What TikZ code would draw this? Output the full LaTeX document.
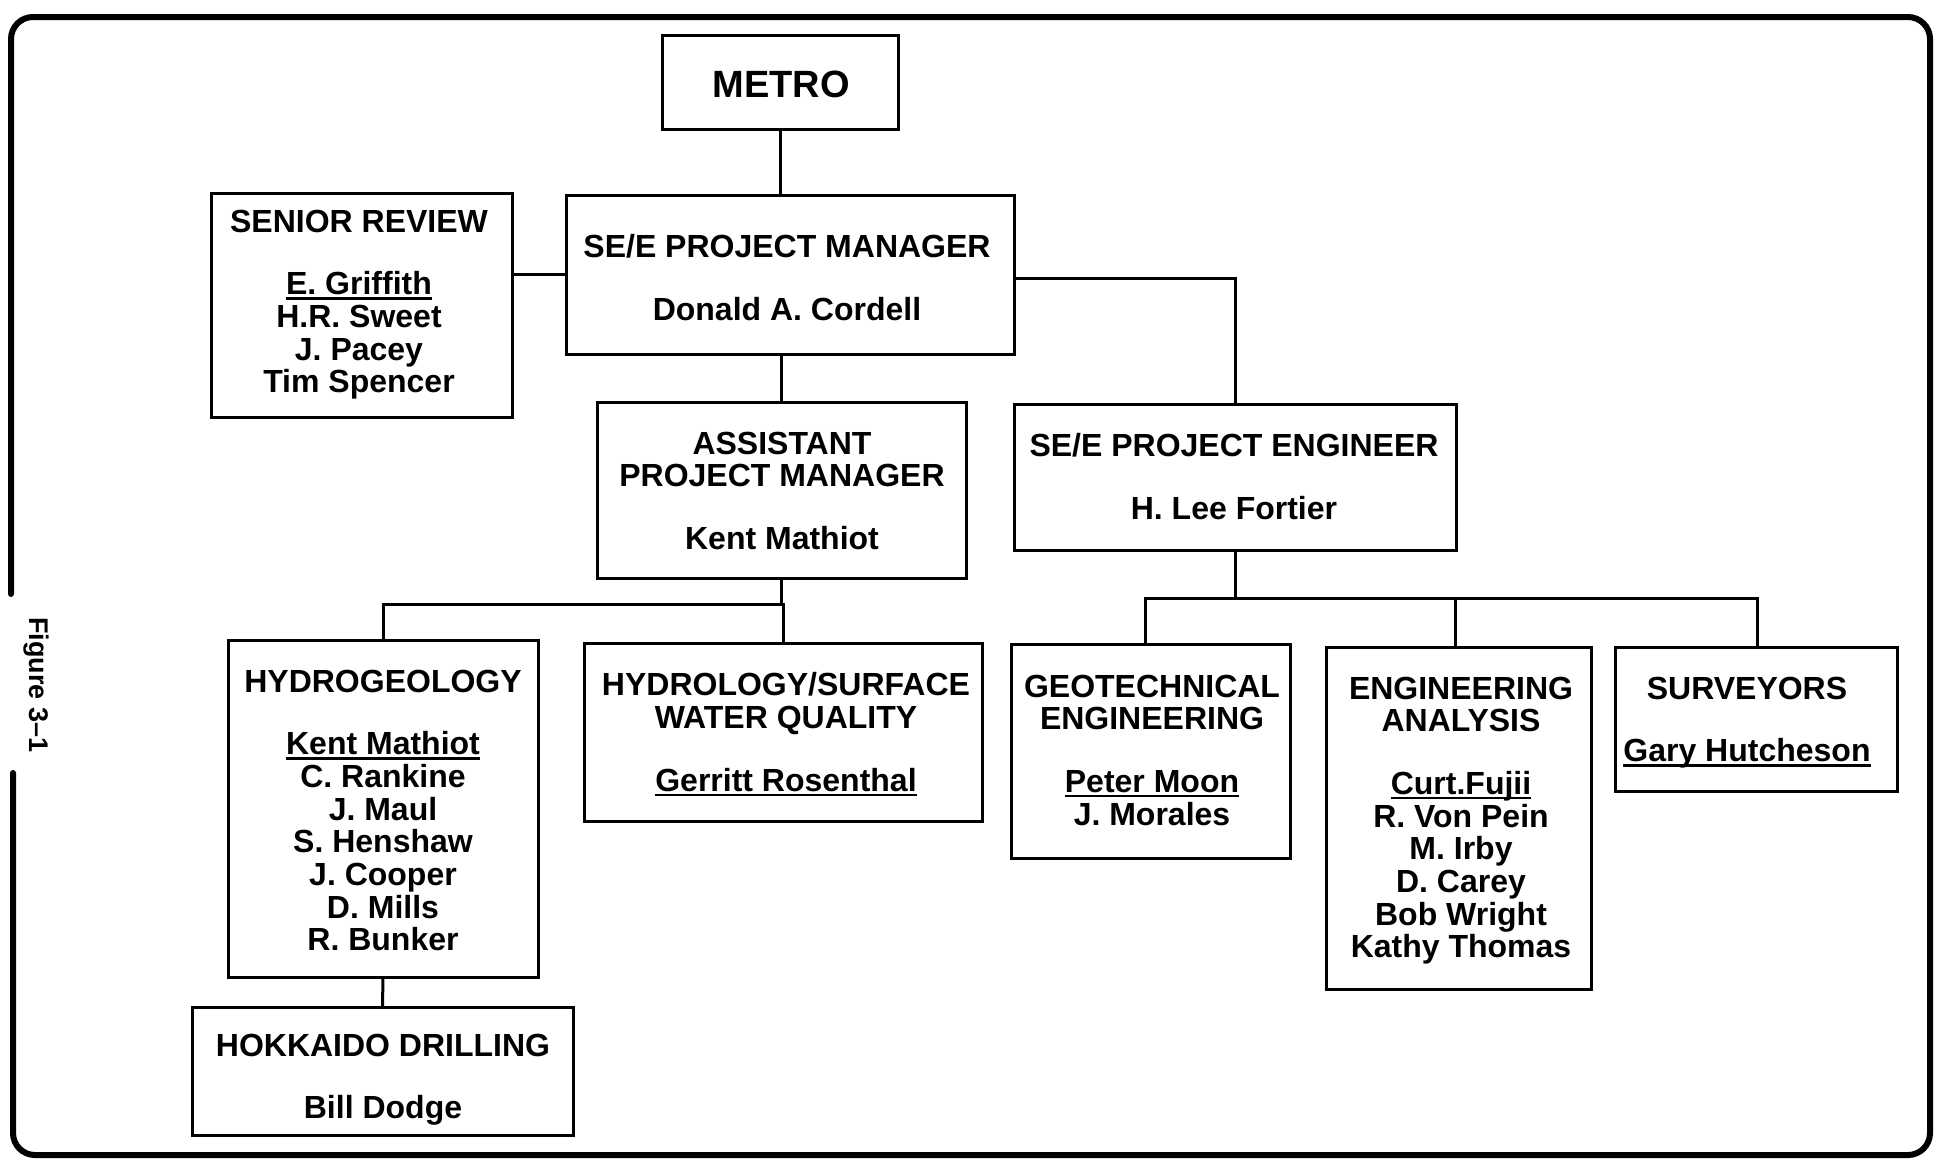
\documentclass[tikz,border=0pt]{standalone}
\usepackage{fontspec}
\setmainfont{Liberation Sans}
\newcommand{\undl}[1]{\setbox0\hbox{#1}\rlap{\rule[-5pt]{\wd0}{2.5pt}}\box0}
\begin{document}
\begin{tikzpicture}[x=1pt,y=-1pt,
  box/.style={draw, line width=3pt, inner sep=0pt, outer sep=0pt},
  txt/.style={anchor=north, inner sep=0pt, align=center, font=\fontsize{32}{32.7}\selectfont\bfseries},
  link/.style={line width=3pt},
  outerframe/.style={line width=6pt, rounded corners=22pt, line cap=round}]
\useasboundingbox (0,0) rectangle (1950,1168);

% outer frame with gap for the figure label
\draw[outerframe] (11,594) -- (11,17) -- (1930,17) -- (1930,1155) -- (13,1155) -- (13,773);
\node[rotate=-90, inner sep=0pt, font=\fontsize{27}{27}\selectfont\bfseries] (figlabel) at (36,685) {Figure 3--1};

% boxes
\node[box, minimum width=236pt, minimum height=94pt]  (metro) at (780,82) {};
\node[box, minimum width=448pt, minimum height=159pt] (pm)    at (790,274.5) {};
\node[box, minimum width=301pt, minimum height=224pt] (sr)    at (361.5,305) {};
\node[box, minimum width=369pt, minimum height=176pt] (apm)   at (781.5,490) {};
\node[box, minimum width=442pt, minimum height=146pt] (eng)   at (1235,477) {};
\node[box, minimum width=310pt, minimum height=337pt] (hydro) at (383,808.5) {};
\node[box, minimum width=381pt, minimum height=128pt] (hokk)  at (382.5,1071) {};
\node[box, minimum width=398pt, minimum height=178pt] (hyd2)  at (783,732) {};
\node[box, minimum width=279pt, minimum height=214pt] (geo)   at (1150.5,751) {};
\node[box, minimum width=265pt, minimum height=342pt] (ea)    at (1458.5,818) {};
\node[box, minimum width=282pt, minimum height=144pt] (surv)  at (1756,719) {};

% texts
\node[inner sep=0pt, font=\fontsize{38}{38}\selectfont\bfseries] (metroT) at (781,84) {METRO};
\node[txt] (srT) at (359,209.5) {SENIOR REVIEW\\[30pt]\undl{E. Griffith}\\H.R. Sweet\\J. Pacey\\Tim Spencer};
\node[txt] (pmT) at (787,234.5) {SE/E PROJECT MANAGER\\[30pt]Donald A. Cordell};
\node[txt] (apmT) at (782,431.5) {ASSISTANT\\PROJECT MANAGER\\[30pt]Kent Mathiot};
\node[txt] (engT) at (1234,433.5) {SE/E PROJECT ENGINEER\\[30pt]H. Lee Fortier};
\node[txt] (hydroT) at (383,669.5) {HYDROGEOLOGY\\[30pt]\undl{Kent Mathiot}\\C. Rankine\\J. Maul\\S. Henshaw\\J. Cooper\\D. Mills\\R. Bunker};
\node[txt] (hokkT) at (383,1033.5) {HOKKAIDO DRILLING\\[30pt]Bill Dodge};
\node[txt] (hyd2T) at (786,672.5) {HYDROLOGY/SURFACE\\WATER QUALITY\\[30pt]\undl{Gerritt Rosenthal}};
\node[txt] (geoT) at (1152,674.5) {GEOTECHNICAL\\ENGINEERING\\[30pt]\undl{Peter Moon}\\J. Morales};
\node[txt] (eaT) at (1461,676.5) {ENGINEERING\\ANALYSIS\\[30pt]\undl{Curt.Fujii}\\R. Von Pein\\M. Irby\\D. Carey\\Bob Wright\\Kathy Thomas};
\node[txt] (survT) at (1747,676.5) {SURVEYORS\\[30pt]\undl{Gary Hutcheson}};

% connectors
\draw[link] (metro.south) -- (metro.south |- pm.north);
\draw[link] (pm.west) -- (pm.west -| sr.east);
\draw[link] (apm.north |- pm.south) -- (apm.north);
\draw[link] ([yshift=-4pt]pm.east) -| (eng.north);
\coordinate (busL) at (783,604);
\draw[link] (hydro.north) |- (busL) -- (hyd2.north);
\draw[link] (apm.south) -- (apm.south |- busL);
\draw[link] (hydro.south) -- (hokk.north);
\coordinate (busR) at (1235,598);
\draw[link] (eng.south) -- (busR);
\draw[link] ([xshift=-5pt]geo.north) |- ([xshift=1pt]surv.north |- busR) -- ([xshift=1pt]surv.north);
\draw[link] ([xshift=-3pt]ea.north) -- ([xshift=-3pt]ea.north |- busR);
\end{tikzpicture}
\end{document}
